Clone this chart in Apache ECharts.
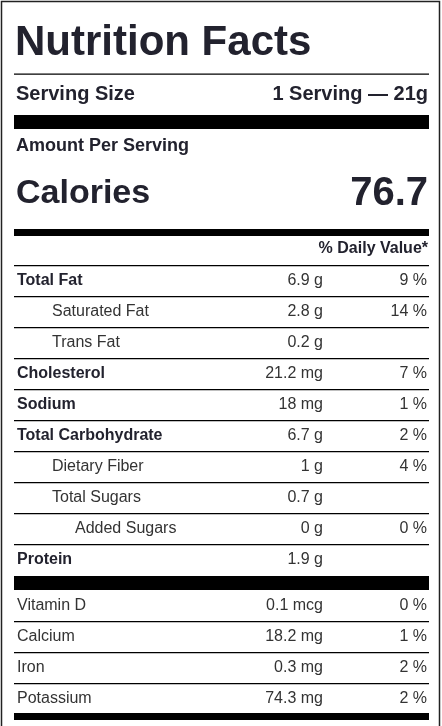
<!DOCTYPE html>
<html><head><meta charset="utf-8">
<script src="https://cdn.jsdelivr.net/npm/echarts@6/dist/echarts.min.js"></script>
<style>html,body{margin:0;padding:0;background:#fff}#c{width:442px;height:726px}</style>
</head><body><div id="c"></div>
<script>
const title = 'Nutrition Facts';
const servingLabel = 'Serving Size';
const servingValue = '1 Serving — 21g';
const caloriesValue = '76.7';
const nutrients = ['Total Fat','Saturated Fat','Trans Fat','Cholesterol','Sodium','Total Carbohydrate','Dietary Fiber','Total Sugars','Added Sugars','Protein'];
const amounts = ['6.9 g','2.8 g','0.2 g','21.2 mg','18 mg','6.7 g','1 g','0.7 g','0 g','1.9 g'];
const dailyValues = ['9 %','14 %','','7 %','1 %','2 %','4 %','','0 %',''];
const indentLevel = [0,1,1,0,0,0,1,1,2,0];
const vitamins = ['Vitamin D','Calcium','Iron','Potassium'];
const vitaminAmounts = ['0.1 mcg','18.2 mg','0.3 mg','74.3 mg'];
const vitaminDV = ['0 %','1 %','2 %','2 %'];

const dark = '#22222e', body = '#333';
const g = [];
const L = 14, R = 429;
function txt(x,y,s,size,bold,align,color){g.push({type:'text',x:x,y:y,style:{text:s,fontFamily:'Liberation Sans, Arial',fontSize:size,fontWeight:bold?'bold':'normal',fill:color||body,align:align||'left',verticalAlign:'middle'}});}
function rect(y,h){g.push({type:'rect',shape:{x:L,y:y,width:R-L,height:h},style:{fill:'#000'}});}
g.push({type:'rect',shape:{x:1.5,y:1.5,width:438,height:740},style:{fill:'none',stroke:'#222',lineWidth:1.5}});
txt(15,43,title,42,true,'left',dark);
rect(73.5,1.2);
txt(16,94,servingLabel,20,true,'left',dark);
txt(428,94,servingValue,20,true,'right',dark);
rect(115,14);
txt(16,146,'Amount Per Serving',18,true,'left',dark);
txt(16,194,'Calories',34,true,'left',dark);
txt(428,194,caloriesValue,40,true,'right',dark);
rect(229,7);
txt(428,249,'% Daily Value*',16,true,'right',dark);
const indentX=[17,52,75];
nutrients.forEach((n,i)=>{
  const y0 = 265 + 31*i;
  rect(y0,1.2);
  const y = y0+15.5;
  txt(indentX[indentLevel[i]],y,n,16,indentLevel[i]===0,'left',indentLevel[i]===0?dark:body);
  txt(323,y,amounts[i],16,false,'right');
  if(dailyValues[i]) txt(427,y,dailyValues[i],16,false,'right');
});
rect(576,14);
vitamins.forEach((n,i)=>{
  const y0 = 590 + 31*i;
  if(i>0) rect(y0,1.2);
  const y = y0+16;
  txt(17,y,n,16,false,'left');
  txt(323,y,vitaminAmounts[i],16,false,'right');
  txt(427,y,vitaminDV[i],16,false,'right');
});
rect(713,7);
const chart = echarts.init(document.getElementById('c'));
chart.setOption({animation:false,graphic:g});
</script></body></html>
